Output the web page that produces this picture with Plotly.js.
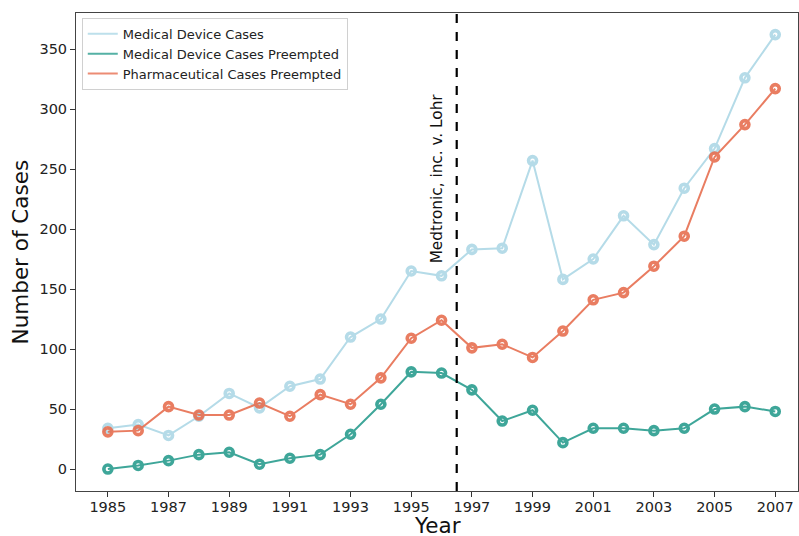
<!DOCTYPE html>
<html>
<head>
<meta charset="utf-8">
<script src="https://cdn.plot.ly/plotly-3.0.1.min.js"></script>
<style>html,body{margin:0;padding:0;background:#fff;}#chart{width:799px;height:536px;}</style>
</head>
<body>
<div id="chart"></div>
<script>
const years = [1985,1986,1987,1988,1989,1990,1991,1992,1993,1994,1995,1996,1997,1998,1999,2000,2001,2002,2003,2004,2005,2006,2007];
const medicalDeviceCases = [34,37,28,44,63,51,69,75,110,125,165,161,183,184,257,158,175,211,187,234,267,326,362];
const medicalDevicePreempted = [0,3,7,12,14,4,9,12,29,54,81,80,66,40,49,22,34,34,32,34,50,52,48];
const pharmaPreempted = [31,32,52,45,45,55,44,62,54,76,109,124,101,104,93,115,141,147,169,194,260,287,317];
const seriesNames = ["Medical Device Cases","Medical Device Cases Preempted","Pharmaceutical Cases Preempted"];
const seriesColors = ['#add8e6','#2a9d8f','#e76f51'];
const tickYears = [1985,1987,1989,1991,1993,1995,1997,1999,2001,2003,2005,2007];
const yTicks = [0,50,100,150,200,250,300,350];
const lohrYear = 1996.5;
const lohrLabel = "Medtronic, inc. v. Lohr";

const font = "DejaVu Sans, sans-serif";
const seriesValues = [medicalDeviceCases, medicalDevicePreempted, pharmaPreempted];
const data = [];
seriesValues.forEach((vals, i) => {
  data.push({x: years, y: vals, name: seriesNames[i], type: 'scatter', mode: 'lines+markers',
    showlegend: false,
    line: {color: seriesColors[i], width: 2},
    marker: {symbol: 'circle-open', size: 8, color: seriesColors[i], line: {color: seriesColors[i], width: 3.6}},
    opacity: 0.9});
});
seriesValues.forEach((vals, i) => {
  data.push({x: [null], y: [null], name: seriesNames[i], type: 'scatter', mode: 'lines',
    line: {color: seriesColors[i], width: 2}, opacity: 0.8, showlegend: true});
});
const layout = {
  width: 799, height: 536,
  margin: {l: 76, r: 1, t: 13, b: 45},
  paper_bgcolor: '#fff', plot_bgcolor: '#fff',
  font: {family: font, color: '#222'},
  showlegend: true,
  legend: {x: 0.008, y: 0.99, xanchor: 'left', yanchor: 'top',
    bgcolor: 'rgba(255,255,255,0.8)', bordercolor: '#d0d0d0', borderwidth: 1,
    font: {family: font, size: 13, color: '#222'}, itemwidth: 30, tracegroupgap: 0},
  xaxis: {range: [1983.95, 2007.75], tickmode: 'array', tickvals: tickYears,
    ticks: 'outside', ticklen: 5, tickcolor: '#333', showgrid: false, zeroline: false,
    showline: true, linecolor: '#444', mirror: true, linewidth: 1, ticklabelstandoff: -2,
    tickfont: {family: font, size: 14.5, color: '#222'}},
  yaxis: {range: [-18.3, 380], tickmode: 'array', tickvals: yTicks,
    ticks: 'outside', ticklen: 5, tickcolor: '#333', showgrid: false, zeroline: false,
    showline: true, linecolor: '#444', mirror: true, linewidth: 1,
    tickfont: {family: font, size: 14.5, color: '#222'}},
  shapes: [{type: 'line', xref: 'x', yref: 'paper', x0: lohrYear, x1: lohrYear, y0: 0, y1: 1,
    line: {color: '#000', width: 2.2, dash: 'dash'}}],
  annotations: [
    {x: lohrYear, y: 242, xref: 'x', yref: 'y', text: lohrLabel, showarrow: false,
      textangle: -90, xanchor: 'right', xshift: -9, font: {family: font, size: 15.3, color: '#111'}},
    {x: 0.5, y: -0.072, xref: 'paper', yref: 'paper', text: 'Year', showarrow: false,
      xanchor: 'center', yanchor: 'middle', font: {family: font, size: 21.5, color: '#111'}},
    {x: -0.077, y: 0.5, xref: 'paper', yref: 'paper', text: 'Number of Cases', showarrow: false,
      textangle: -90, xanchor: 'center', yanchor: 'middle', font: {family: font, size: 21.5, color: '#111'}}
  ]
};
Plotly.newPlot('chart', data, layout, {displayModeBar: false, staticPlot: true});
</script>
</body>
</html>
